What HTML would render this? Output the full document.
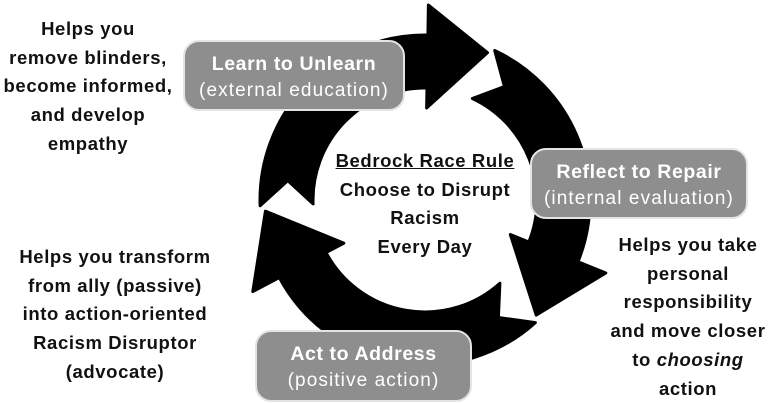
<!DOCTYPE html>
<html><head><meta charset="utf-8"><style>
html,body{margin:0;padding:0;background:#fff;}
body{width:768px;height:400px;position:relative;overflow:hidden;font-family:"Liberation Sans",sans-serif;}
.t{position:absolute;text-align:center;font-weight:bold;color:#111;font-size:18.5px;line-height:28.7px;letter-spacing:0.6px;white-space:nowrap;}
.box{position:absolute;background:#8e8e8e;border:2px solid #e4e4e4;border-radius:16px;color:#fff;text-align:center;box-sizing:border-box;}
.box .a{font-weight:bold;font-size:19.5px;letter-spacing:0.6px;margin-top:9px;line-height:26px;}
.box .b{font-size:19px;letter-spacing:1.1px;line-height:28px;}
</style></head><body>
<svg width="768" height="400" style="position:absolute;left:0;top:0">
<g stroke="#000" stroke-width="3" stroke-linejoin="round" fill="#000">
<path d="M260.1,205.8 A165 165 0 0 1 427.9,35.0 L428.4,5.0 L487.5,52.7 L426.6,108.0 L427.0,88.0 A112 112 0 0 0 313.1,203.9 L287.8,180.7 Z"/>
<path d="M494.7,50.5 A165 165 0 0 1 578.0,261.8 L605.8,273.0 L536.2,315.1 L510.3,234.5 L528.8,242.0 A112 112 0 0 0 472.3,98.5 L504.4,86.5 Z"/>
<path d="M535.4,322.6 A165 165 0 0 1 279.3,277.5 L252.8,291.5 L265.4,211.2 L343.8,243.2 L326.1,252.6 A112 112 0 0 0 499.9,283.2 L498.4,317.5 Z"/>
</g>
</svg>
<div class="t" style="left:-12px;width:200px;top:15px;">Helps you<br>remove blinders,<br>become informed,<br>and develop<br>empathy</div>
<div class="t" style="left:5px;width:220px;top:243px;">Helps you transform<br>from ally (passive)<br>into action-oriented<br>Racism Disruptor<br>(advocate)</div>
<div class="t" style="left:588px;width:200px;top:231px;">Helps you take<br>personal<br>responsibility<br>and move closer<br>to <i>choosing</i><br>action</div>
<div class="t" style="left:325px;width:200px;top:147px;font-size:18.5px;"><span style="text-decoration:underline">Bedrock Race Rule</span><br>Choose to Disrupt<br>Racism<br>Every Day</div>
<div class="box" style="left:183px;top:40px;width:222px;height:71px;"><div class="a">Learn to Unlearn</div><div class="b">(external education)</div></div>
<div class="box" style="left:530px;top:148px;width:218px;height:71px;"><div class="a">Reflect to Repair</div><div class="b">(internal evaluation)</div></div>
<div class="box" style="left:255px;top:330px;width:217px;height:72px;"><div class="a">Act to Address</div><div class="b">(positive action)</div></div>
</body></html>
